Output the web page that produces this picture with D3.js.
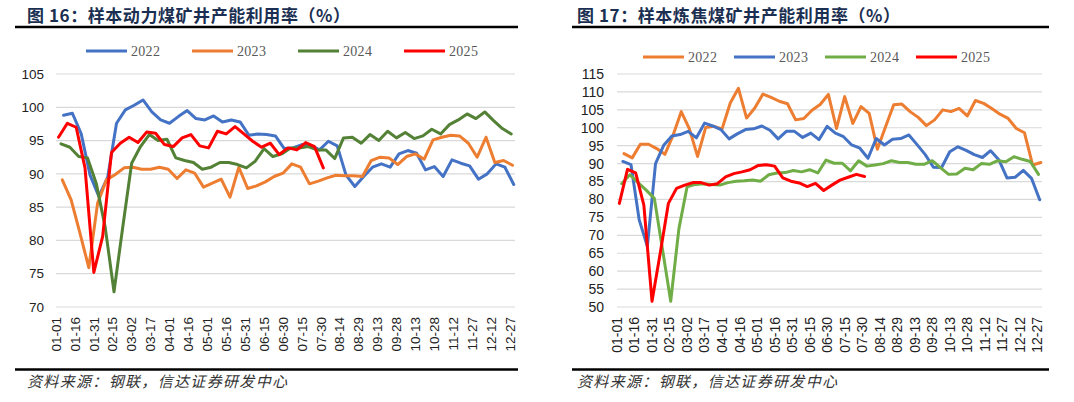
<!DOCTYPE html>
<html>
<head>
<meta charset="utf-8">
<script src="https://cdn.jsdelivr.net/npm/d3@7/dist/d3.min.js"></script>
<style>
  body { margin: 0; background: #fff; }
  svg { display: block; }
</style>
</head>
<body>
<svg id="chart" width="1074" height="402"></svg>
<script>
// x axis labels, one every 15 days starting 01-01
const tickLabels = ["01-01","01-16","01-31","02-15","03-02","03-17","04-01","04-16","05-01","05-16",
  "05-31","06-15","06-30","07-15","07-30","08-14","08-29","09-13","09-28","10-13","10-28","11-12",
  "11-27","12-12","12-27"];
const years = ["2022", "2023", "2024", "2025"];
// day of year of first weekly reading (friday) for each year
const firstDay = [6, 5, 4, 2];

// 图16 动力煤 (%), weekly
const thermal2022 = [98.8,99.1,96.0,89.8,86.6,89.5,97.6,99.6,100.3,101.1,99.3,98.1,97.6,98.6,99.5,98.3,
  98.1,98.7,97.8,98.1,97.8,95.8,96.0,95.9,95.7,93.8,93.9,94.4,94.3,93.6,94.9,94.2,89.8,88.1,89.6,91.0,
  91.5,91.0,93.0,93.5,93.1,90.6,91.1,89.6,92.1,91.6,91.2,89.2,90.0,91.5,91.0,88.4];
const thermal2023 = [89.1,86.1,81.1,75.9,85.6,89.1,89.9,90.9,91.0,90.7,90.7,91.0,90.7,89.3,90.6,90.1,
  88.0,88.6,89.2,86.5,91.0,87.8,88.2,88.8,89.6,90.1,91.5,91.0,88.5,88.9,89.4,89.8,89.7,89.7,89.6,92.0,
  92.5,92.4,91.4,92.6,93.0,92.2,95.1,95.5,95.8,95.7,94.6,92.5,95.5,91.7,92.0,91.3];
const thermal2024 = [94.5,94.0,92.6,92.4,88.5,82.0,72.3,82.1,91.6,94.1,95.9,95.0,95.2,92.4,92.0,91.7,
  90.7,91.0,91.7,91.7,91.4,90.9,91.9,93.8,92.6,93.0,93.9,93.9,94.1,93.6,93.6,92.3,95.4,95.5,94.6,95.9,
  95.0,96.4,95.4,96.2,95.3,95.7,96.7,96.0,97.4,98.1,99.0,98.3,99.3,98.0,96.8,96.0];
const thermal2025 = [95.5,97.6,97.0,90.9,75.2,80.6,93.2,94.6,95.5,94.7,96.3,96.1,94.4,94.1,95.4,95.9,
  94.2,93.9,96.4,96.0,97.1,96.0,94.9,94.0,94.6,92.9,93.9,93.6,94.7,94.1,90.9];

// 图17 炼焦煤 (%), weekly
const coking2022 = [92.8,91.6,95.4,95.4,94.2,92.6,97.9,104.5,99.7,92.0,100.1,100.4,99.7,106.9,111.0,102.7,
  105.5,109.4,108.5,107.4,106.7,102.2,102.6,104.9,106.5,109.3,99.8,108.7,101.2,105.9,104.0,94.0,100.3,
  106.4,106.6,104.5,102.9,100.6,102.2,105.0,104.5,105.4,103.3,107.6,106.8,105.4,103.8,102.6,99.8,98.6,
  89.6,90.3];
const coking2023 = [90.6,89.7,74.3,66.9,90.0,95.1,97.7,98.1,99.0,97.2,101.3,100.5,99.5,96.9,98.3,99.5,
  99.7,100.5,99.3,96.9,99.0,99.0,97.3,98.5,96.7,100.4,98.5,97.5,95.2,94.3,91.5,97.0,95.2,96.8,97.0,98.0,
  95.3,92.5,89.0,88.9,93.3,94.7,93.7,92.5,91.7,93.6,91.1,86.0,86.2,88.1,85.9,79.9];
const coking2024 = [84.4,86.9,84.7,82.6,80.3,66.0,51.6,71.8,83.5,84.2,84.4,84.2,84.0,84.7,85.1,85.2,
  85.4,85.1,86.9,87.4,87.5,88.1,87.7,88.3,87.4,91.0,90.1,90.1,88.0,90.8,89.3,89.6,90.0,90.8,90.3,90.3,
  89.8,89.8,90.8,88.9,87.0,87.1,88.7,88.3,90.0,89.8,90.8,90.5,91.9,91.2,90.6,87.0];
const coking2025 = [78.9,88.4,87.4,78.4,51.6,65.0,78.9,83.1,84.0,84.7,84.7,84.0,84.4,86.3,87.2,87.7,
  88.3,89.5,89.7,89.3,86.0,85.1,84.6,83.6,84.5,82.5,84.0,85.4,86.2,87.0,86.4];

const svg = d3.select("#chart");

function drawPanel(cfg) {
    const g = svg.append("g");

    // title + rules
    g.append("text")
        .attr("x", cfg.titleX).attr("y", 21.5)
        .attr("textLength", 323).attr("lengthAdjust", "spacing")
        .style("font-family", "'Noto Sans CJK SC', sans-serif")
        .style("font-weight", "bold").style("font-size", "17px")
        .style("fill", "#1b2f52")
        .text(cfg.title);
    g.append("line")
        .attr("x1", cfg.ruleX0).attr("x2", cfg.ruleX1).attr("y1", 27).attr("y2", 27)
        .attr("stroke", "#000").attr("stroke-width", 2.5);
    g.append("line")
        .attr("x1", cfg.ruleX0).attr("x2", cfg.ruleX1).attr("y1", 369.5).attr("y2", 369.5)
        .attr("stroke", "#000").attr("stroke-width", 2.5);
    g.append("text")
        .attr("x", cfg.titleX).attr("y", 387)
        .attr("textLength", 260).attr("lengthAdjust", "spacing")
        .style("font-family", "'Noto Sans CJK SC', sans-serif")
        .style("font-style", "italic").style("font-size", "15px")
        .style("fill", "#333")
        .text("资料来源：钢联，信达证券研发中心");

    const x = d3.scaleLinear().domain([0, 364]).range([cfg.left, cfg.right]);
    const y = d3.scaleLinear().domain(cfg.yDomain).range([307, 74]);

    // gridlines + y labels
    const yTicks = d3.range(cfg.yDomain[0], cfg.yDomain[1] + 1, 5);
    g.append("g").selectAll("line").data(yTicks).join("line")
        .attr("x1", cfg.left).attr("x2", cfg.right)
        .attr("y1", d => y(d)).attr("y2", d => y(d))
        .attr("stroke", "#d9d9d9").attr("stroke-width", 1.2);
    g.append("g").selectAll("text").data(yTicks).join("text")
        .attr("x", cfg.yLabelX).attr("y", d => y(d)).attr("dy", "0.35em")
        .attr("text-anchor", "end")
        .style("font-family", "'Liberation Sans', Arial, sans-serif")
        .style("font-size", cfg.labelSize + "px").style("fill", "#222")
        .text(d => d);

    // x labels, rotated
    g.append("g").selectAll("text").data(tickLabels).join("text")
        .attr("transform", (d, i) => `translate(${x(i * 15)},317) rotate(-90)`)
        .attr("dy", "0.35em").attr("text-anchor", "end")
        .style("font-family", "'Liberation Sans', Arial, sans-serif")
        .style("font-size", cfg.labelSize + "px").style("fill", "#222")
        .text(d => d);

    const line = d3.line()
        .x(d => x(d.day))
        .y(d => y(d.v));

    cfg.series.forEach((vals, k) => {
        const pts = vals.map((v, i) => ({ day: firstDay[k] + 7 * i, v: v }));
        g.append("path")
            .datum(pts)
            .attr("d", line)
            .attr("fill", "none")
            .attr("stroke", cfg.colors[k])
            .attr("stroke-width", 3)
            .attr("stroke-linejoin", "round")
            .attr("stroke-linecap", "round");
    });

    // legend
    const leg = g.append("g").selectAll("g").data(years).join("g")
        .attr("transform", (d, i) => `translate(${cfg.legendX + i * cfg.legendStep},${cfg.legendY})`);
    leg.append("line")
        .attr("x1", 0).attr("x2", 41).attr("y1", 0).attr("y2", 0)
        .attr("stroke", (d, i) => cfg.colors[i]).attr("stroke-width", 3);
    leg.append("text")
        .attr("x", 45).attr("y", 0).attr("dy", "0.35em")
        .style("font-family", "'Liberation Serif', 'Times New Roman', serif")
        .style("font-size", "14px").style("fill", "#595959")
        .style("letter-spacing", "0.3px")
        .text(d => d);
}

drawPanel({
    title: "图 16：样本动力煤矿井产能利用率（%）",
    titleX: 27, ruleX0: 15, ruleX1: 518,
    left: 56, right: 515, yDomain: [70, 105], yLabelX: 44, labelSize: 13.5,
    series: [thermal2022, thermal2023, thermal2024, thermal2025],
    colors: ["#4472c4", "#ed7d31", "#538135", "#ff0000"],
    legendX: 86, legendStep: 106, legendY: 51
});

drawPanel({
    title: "图 17：样本炼焦煤矿井产能利用率（%）",
    titleX: 577, ruleX0: 572, ruleX1: 1049,
    left: 617, right: 1042, yDomain: [50, 115], yLabelX: 604, labelSize: 14,
    series: [coking2022, coking2023, coking2024, coking2025],
    colors: ["#ed7d31", "#4472c4", "#70ad47", "#ff0000"],
    legendX: 643, legendStep: 91, legendY: 57
});
</script>
</body>
</html>
